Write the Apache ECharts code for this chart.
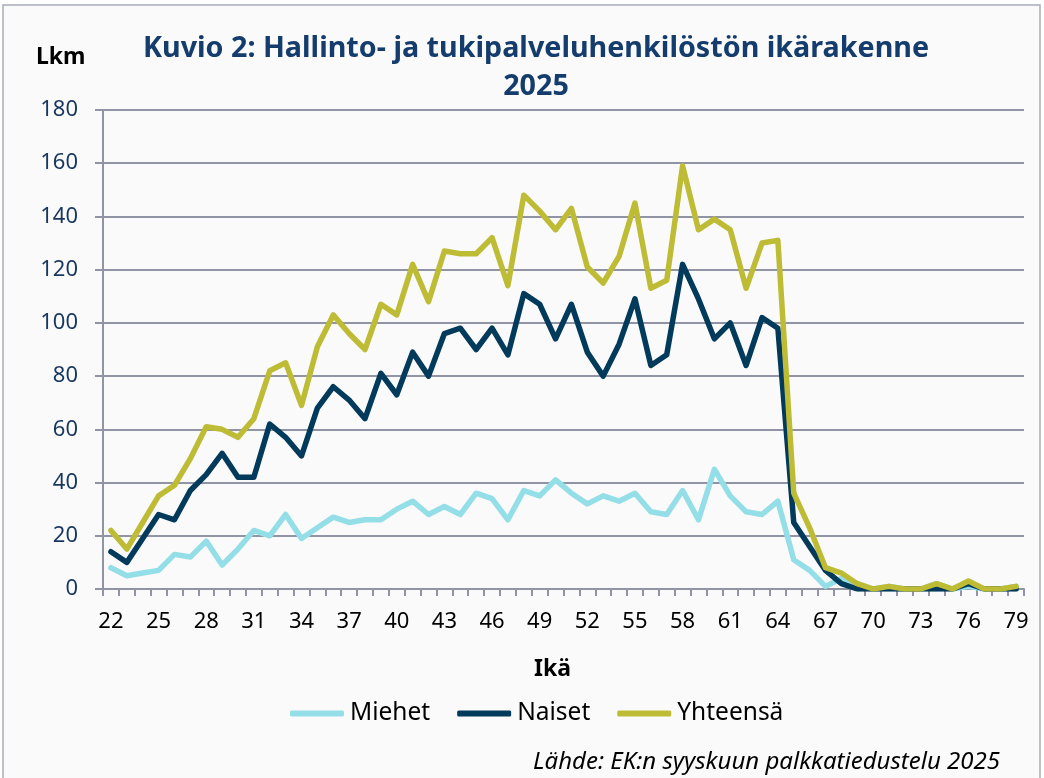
<!DOCTYPE html>
<html>
<head>
<meta charset="utf-8">
<script src="https://cdn.jsdelivr.net/npm/echarts@6/dist/echarts.min.js"></script>
<style>
  html, body { margin: 0; padding: 0; background: #ffffff; }
  #chart { width: 1044px; height: 778px; }
</style>
</head>
<body>
<div id="chart"></div>
<script>
const ages = ['22', '23', '24', '25', '26', '27', '28', '29', '30', '31', '32', '33', '34', '35', '36', '37', '38', '39', '40', '41',
  '42', '43', '44', '45', '46', '47', '48', '49', '50', '51', '52', '53', '54', '55', '56', '57', '58', '59', '60', '61',
  '62', '63', '64', '65', '66', '67', '68', '69', '70', '71', '72', '73', '74', '75', '76', '77', '78', '79']

const miehet = [8, 5, 6, 7, 13, 12, 18, 9, 15, 22, 20, 28, 19, 23, 27, 25, 26, 26, 30, 33,
  28, 31, 28, 36, 34, 26, 37, 35, 41, 36, 32, 35, 33, 36, 29, 28, 37, 26, 45, 35,
  29, 28, 33, 11, 7, 1, 4, 2, 0, 1, 0, 0, 2, 0, 1, 0, 0, 1]

const naiset = [14, 10, 19, 28, 26, 37, 43, 51, 42, 42, 62, 57, 50, 68, 76, 71, 64, 81, 73, 89,
  80, 96, 98, 90, 98, 88, 111, 107, 94, 107, 89, 80, 92, 109, 84, 88, 122, 109, 94, 100,
  84, 102, 98, 25, 16, 7, 2, 0, 0, 0, 0, 0, 0, 0, 2, 0, 0, 0]

const yhteensa = [22, 15, 25, 35, 39, 49, 61, 60, 57, 64, 82, 85, 69, 91, 103, 96, 90, 107, 103, 122,
  108, 127, 126, 126, 132, 114, 148, 142, 135, 143, 121, 115, 125, 145, 113, 116, 159, 135, 139, 135,
  113, 130, 131, 36, 23, 8, 6, 2, 0, 1, 0, 0, 2, 0, 3, 0, 0, 1]

const font = '"Noto Sans", Roboto, sans-serif'
const gridColor = '#9094a4'

const chart = echarts.init(document.getElementById('chart'))

const lineSeries = (name, data, color) => ({
  name: name,
  type: 'line',
  data: data,
  symbol: 'none',
  lineStyle: { color: color, width: 5.5, cap: 'round', join: 'round' },
  itemStyle: { color: color }
})

const option = {
  backgroundColor: '#ffffff',
  animation: false,
  textStyle: { fontFamily: font },
  title: {
    text: 'Kuvio 2: Hallinto- ja tukipalveluhenkilöstön ikärakenne\n2025',
    left: 531,
    top: 25,
    textAlign: 'center',
    textStyle: {
      color: '#143c6c',
      fontSize: 28.7,
      fontWeight: 'bold',
      fontFamily: font,
      lineHeight: 38
    }
  },
  graphic: [
    {
      type: 'rect',
      z: -10,
      shape: { x: 3, y: 5, width: 1037, height: 800 },
      style: { fill: '#fafafa', stroke: '#a8abb8', lineWidth: 1.5 }
    },
    {
      type: 'text',
      left: 36,
      top: 46,
      style: { text: 'Lkm', fill: '#000000', font: 'bold 23px ' + font }
    },
    {
      type: 'text',
      right: 44,
      top: 750,
      style: {
        text: 'Lähde: EK:n syyskuun palkkatiedustelu 2025',
        fill: '#000000',
        font: 'italic 24px ' + font
      }
    }
  ],
  legend: {
    left: 290,
    top: 701,
    padding: 0,
    icon: 'roundRect',
    itemWidth: 54,
    itemHeight: 6,
    itemGap: 27,
    textStyle: { color: '#000000', fontSize: 24.5, fontFamily: font, padding: [0, 0, 0, 1] },
    data: ['Miehet', 'Naiset', 'Yhteensä']
  },
  grid: {
    left: 103,
    right: 20,
    top: 110,
    bottom: 189,
    containLabel: false
  },
  xAxis: {
    type: 'category',
    data: ages,
    boundaryGap: true,
    name: 'Ikä',
    nameLocation: 'middle',
    nameGap: 69,
    nameTextStyle: { color: '#000000', fontSize: 23, fontWeight: 'bold', padding: [0, 22, 0, 0] },
    axisLine: { lineStyle: { color: gridColor, width: 2 } },
    axisTick: { show: true, interval: 0, length: 7, lineStyle: { color: gridColor, width: 2 } },
    axisLabel: { interval: 2, color: '#000000', fontSize: 22, margin: 22 }
  },
  yAxis: {
    type: 'value',
    min: 0,
    max: 180,
    interval: 20,
    axisLine: { show: true, lineStyle: { color: gridColor, width: 2 } },
    axisTick: { show: true, length: 8, lineStyle: { color: gridColor, width: 2 } },
    axisLabel: { color: '#17375e', fontSize: 22, margin: 25 },
    splitLine: { lineStyle: { color: gridColor, width: 2 } }
  },
  series: [
    lineSeries('Miehet', miehet, '#94dee8'),
    lineSeries('Naiset', naiset, '#023a5b'),
    lineSeries('Yhteensä', yhteensa, '#bebb35')
  ]
}

chart.setOption(option)

window.addEventListener('resize', () => {
  chart.resize()
})
</script>
</body>
</html>
